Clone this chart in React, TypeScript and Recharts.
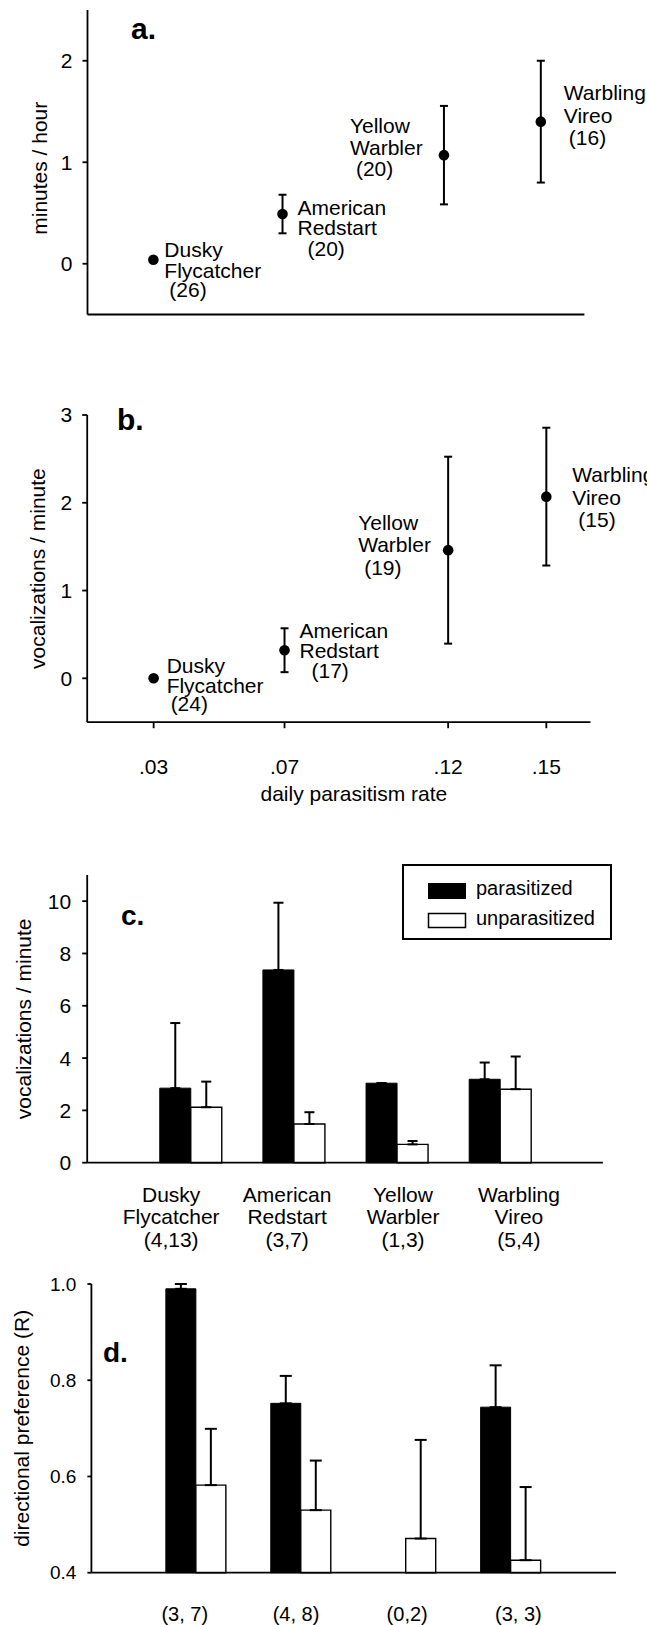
import React from 'react';
import {
  ScatterChart,
  Scatter,
  BarChart,
  Bar,
  XAxis,
  YAxis,
  ErrorBar,
  Legend,
  Label,
} from 'recharts';

const FONT = '"Liberation Sans", Arial, Helvetica, sans-serif';

// ---------- data ----------
const speciesFirst = ['Dusky', 'American', 'Yellow', 'Warbling'];
const speciesSecond = ['Flycatcher', 'Redstart', 'Warbler', 'Vireo'];
const parasitismRate = [0.03, 0.07, 0.12, 0.15];
const rateTickLabels = ['.03', '.07', '.12', '.15'];

// panel a: minutes / hour
const minutesMean = [0.04, 0.49, 1.07, 1.4];
const minutesErr = [0, 0.19, 0.485, 0.6];
const minutesN = [26, 20, 20, 16];

// panel b: vocalizations / minute
const vocMean = [0.0, 0.32, 1.46, 2.07];
const vocErr = [0, 0.25, 1.065, 0.785];
const vocN = [24, 17, 19, 15];

// panel c: vocalizations / minute, parasitized vs unparasitized
const vocParasitized = [2.85, 7.37, 3.04, 3.19];
const vocParasitizedErr = [2.49, 2.57, 0, 0.64];
const vocUnparasitized = [2.12, 1.48, 0.7, 2.81];
const vocUnparasitizedErr = [0.98, 0.45, 0.13, 1.25];
const vocSampleSizes = ['(4,13)', '(3,7)', '(1,3)', '(5,4)'];

// panel d: directional preference (R)
const dirParasitized = [0.99, 0.752, null, 0.744];
const dirParasitizedErr = [0.01, 0.057, null, 0.087];
const dirUnparasitized = [0.582, 0.53, 0.471, 0.426];
const dirUnparasitizedErr = [0.117, 0.103, 0.205, 0.152];
const dirSampleSizes = ['(3, 7)', '(4, 8)', '(0,2)', '(3, 3)'];

// category slots on the bar panels' x axis (1..4, with an empty slot each side)
const categorySlots = [1, 2, 3, 4];
const slotTicks = [1, 2, 3, 4, 5];

// ---------- label placement styles (offsets from each point) ----------
const labelStyleA = [
  { dx: [11, 11, 16], dy: [-3, 18, 37] },
  { dx: [15, 15, 25], dy: [1, 21, 42] },
  { dx: [-94, -94, -88], dy: [-22, 0, 21] },
  { dx: [23, 23, 28], dy: [-22, 1, 23] },
];
const labelStyleB = [
  { dx: [13, 13, 17], dy: [-5, 15, 33] },
  { dx: [15, 15, 27], dy: [-12, 8, 28] },
  { dx: [-90, -90, -84], dy: [-20, 2, 25] },
  { dx: [26, 26, 32], dy: [-15, 8, 30] },
];

const dataA = parasitismRate.map((rate, i) => ({
  idx: i,
  rate,
  mean: minutesMean[i],
  err: minutesErr[i],
  lines: [speciesFirst[i], speciesSecond[i], `(${minutesN[i]})`],
}));
const dataB = parasitismRate.map((rate, i) => ({
  idx: i,
  rate,
  mean: vocMean[i],
  err: vocErr[i],
  lines: [speciesFirst[i], speciesSecond[i], `(${vocN[i]})`],
}));
const dataC = speciesFirst.map((f, i) => ({
  slot: categorySlots[i],
  name: `${f} ${speciesSecond[i]}`,
  par: vocParasitized[i],
  parErr: vocParasitizedErr[i],
  unpar: vocUnparasitized[i],
  unparErr: vocUnparasitizedErr[i],
  sample: vocSampleSizes[i],
  first: f,
  second: speciesSecond[i],
}));
const dataD = speciesFirst.map((f, i) => ({
  slot: categorySlots[i],
  name: `${f} ${speciesSecond[i]}`,
  par: dirParasitized[i],
  parErr: dirParasitizedErr[i],
  unpar: dirUnparasitized[i],
  unparErr: dirUnparasitizedErr[i],
  sample: dirSampleSizes[i],
}));

const axisStroke = { stroke: '#000', strokeWidth: 1.8 };
const tickFont = (size: number) => ({ fill: '#000', fontSize: size, fontFamily: FONT });

const makePointShape = (styles: any[]) => (props: any) => {
  const { cx, cy, payload } = props;
  const st = styles[payload.idx];
  return (
    <g>
      <circle cx={cx} cy={cy} r={5.3} fill="#000" />
      {payload.lines.map((t: string, k: number) => (
        <text
          key={k}
          x={cx + st.dx[k]}
          y={cy + st.dy[k]}
          fontSize={21}
          fontFamily={FONT}
          fill="#000"
        >
          {t}
        </text>
      ))}
    </g>
  );
};

const errUp = (key: string) => (d: any) => (d[key] == null ? null : [0, d[key]]);

const NamesTickC = (props: any) => {
  const { x, y, index } = props;
  const d = dataC[index];
  if (!d) return null;
  const lines = [d.first, d.second, d.sample];
  const offs = [29, 51.5, 74];
  return (
    <g>
      {lines.map((t, k) => (
        <text key={k} x={x} y={y + offs[k]} textAnchor="middle" fontSize={21} fontFamily={FONT} fill="#000">
          {t}
        </text>
      ))}
    </g>
  );
};

const NamesTickD = (props: any) => {
  const { x, y, index } = props;
  const d = dataD[index];
  if (!d) return null;
  return (
    <text x={x} y={y + 38} textAnchor="middle" fontSize={20} fontFamily={FONT} fill="#000">
      {d.sample}
    </text>
  );
};

const LegendBox = () => (
  <svg width={210} height={76} style={{ display: 'block' }}>
    <rect x={1} y={1} width={208} height={74} fill="#fff" stroke="#000" strokeWidth={2} />
    <rect x={26} y={19} width={38} height={16} fill="#000" />
    <text x={74} y={31} fontSize={20} fontFamily={FONT} fill="#000">parasitized</text>
    <rect x={26.5} y={49.5} width={37} height={14} fill="#fff" stroke="#000" strokeWidth={1.5} />
    <text x={74} y={61} fontSize={20} fontFamily={FONT} fill="#000">unparasitized</text>
  </svg>
);

const rateFormatter = (v: number) => {
  const i = parasitismRate.indexOf(v);
  return i >= 0 ? rateTickLabels[i] : '';
};

export default function App() {
  return (
    <div
      style={{
        position: 'absolute',
        left: 0,
        top: 0,
        width: 647,
        height: 1625,
        background: '#fff',
        fontFamily: FONT,
        overflow: 'hidden',
      }}
    >
      {/* panel a */}
      <div style={{ position: 'absolute', left: 0, top: 0 }}>
        <ScatterChart width={647} height={340} margin={{ top: 10, right: 62.6, bottom: 0.5, left: 0 }}>
          <XAxis
            type="number"
            dataKey="rate"
            domain={[0.0096, 0.1635]}
            ticks={parasitismRate}
            tick={false}
            tickSize={8}
            height={25}
            axisLine={axisStroke}
            tickLine={axisStroke}
          />
          <YAxis
            type="number"
            dataKey="mean"
            domain={[-0.5, 2.5]}
            ticks={[0, 1, 2]}
            width={87.5}
            tickSize={5}
            tickMargin={10}
            tick={tickFont(21)}
            axisLine={axisStroke}
            tickLine={axisStroke}
          >
            <Label value="minutes / hour" angle={-90} position="center" dx={-4} dy={6} fontSize={21} fontFamily={FONT} fill="#000" />
          </YAxis>
          <Scatter data={dataA} shape={makePointShape(labelStyleA)} isAnimationActive={false}>
            <ErrorBar dataKey="err" direction="y" width={4} strokeWidth={2} stroke="#000" />
          </Scatter>
        </ScatterChart>
      </div>

      {/* panel b */}
      <div style={{ position: 'absolute', left: 0, top: 390 }}>
        <ScatterChart width={647} height={440} margin={{ top: 25, right: 56.5, bottom: 0, left: 0 }}>
          <XAxis
            type="number"
            dataKey="rate"
            domain={[0.0097, 0.1635]}
            ticks={parasitismRate}
            tickFormatter={rateFormatter}
            tick={tickFont(21)}
            tickSize={6}
            tickMargin={31}
            height={107.8}
            axisLine={axisStroke}
            tickLine={axisStroke}
          >
            <Label value="daily parasitism rate" position="insideBottom" offset={29} dx={15} fontSize={21} fontFamily={FONT} fill="#000" />
          </XAxis>
          <YAxis
            type="number"
            dataKey="mean"
            domain={[-0.5, 3]}
            ticks={[0, 1, 2, 3]}
            width={87.2}
            tickSize={5}
            tickMargin={10}
            tick={tickFont(21)}
            axisLine={axisStroke}
            tickLine={axisStroke}
          >
            <Label value="vocalizations / minute" angle={-90} position="center" dx={-6} fontSize={21} fontFamily={FONT} fill="#000" />
          </YAxis>
          <Scatter data={dataB} shape={makePointShape(labelStyleB)} isAnimationActive={false}>
            <ErrorBar dataKey="err" direction="y" width={4} strokeWidth={2} stroke="#000" />
          </Scatter>
        </ScatterChart>
      </div>

      {/* panel c */}
      <div style={{ position: 'absolute', left: 0, top: 840 }}>
        <BarChart
          width={647}
          height={415}
          data={dataC}
          margin={{ top: 35, right: 44.1, bottom: 0, left: 0 }}
          barGap={0}
          barSize={31}
        >
          <XAxis
            dataKey="slot"
            type="number"
            domain={[0, 5]}
            ticks={slotTicks}
            height={10}
            tick={false}
            tickSize={5}
            axisLine={axisStroke}
            tickLine={axisStroke}
          />
          <XAxis
            xAxisId="names"
            dataKey="name"
            type="category"
            padding={{ left: 26, right: 26 }}
            height={82.3}
            axisLine={false}
            tickLine={false}
            tickSize={0}
            tickMargin={0}
            interval={0}
            tick={<NamesTickC />}
          />
          <YAxis
            type="number"
            domain={[0, 11]}
            ticks={[0, 2, 4, 6, 8, 10]}
            width={87.2}
            tickSize={5}
            tickMargin={11}
            tick={tickFont(21)}
            axisLine={axisStroke}
            tickLine={axisStroke}
          >
            <Label value="vocalizations / minute" angle={-90} position="center" dx={-20} fontSize={21} fontFamily={FONT} fill="#000" />
          </YAxis>
          <Legend
            layout="vertical"
            align="center"
            verticalAlign="middle"
            content={<LegendBox />}
            wrapperStyle={{ position: 'absolute', left: 402, top: 24, width: 210, height: 76 }}
          />
          <Bar dataKey="par" name="parasitized" fill="#000" stroke="#000" strokeWidth={1} isAnimationActive={false}>
            <ErrorBar dataKey={errUp('parErr')} direction="y" width={5} strokeWidth={2} stroke="#000" />
          </Bar>
          <Bar dataKey="unpar" name="unparasitized" fill="#fff" stroke="#000" strokeWidth={1.4} isAnimationActive={false}>
            <ErrorBar dataKey={errUp('unparErr')} direction="y" width={5} strokeWidth={2} stroke="#000" />
          </Bar>
        </BarChart>
      </div>

      {/* panel d */}
      <div style={{ position: 'absolute', left: 0, top: 1265 }}>
        <BarChart
          width={647}
          height={360}
          data={dataD}
          margin={{ top: 19, right: 31, bottom: 0, left: 0 }}
          barGap={0}
          barSize={30}
        >
          <XAxis
            dataKey="slot"
            type="number"
            domain={[0, 5]}
            ticks={slotTicks}
            height={10}
            tick={false}
            tickSize={5}
            axisLine={axisStroke}
            tickLine={axisStroke}
          />
          <XAxis
            xAxisId="names"
            dataKey="name"
            type="category"
            padding={{ left: 37.75, right: 42 }}
            height={42.3}
            axisLine={false}
            tickLine={false}
            tickSize={0}
            tickMargin={0}
            interval={0}
            tick={<NamesTickD />}
          />
          <YAxis
            type="number"
            domain={[0.4, 1.0]}
            ticks={[0.4, 0.6, 0.8, 1.0]}
            tickFormatter={(v: number) => v.toFixed(1)}
            width={91.4}
            tickSize={4}
            tickMargin={11}
            tick={tickFont(19)}
            axisLine={axisStroke}
            tickLine={axisStroke}
          >
            <Label value="directional preference (R)" angle={-90} position="center" dx={-24} fontSize={21} fontFamily={FONT} fill="#000" />
          </YAxis>
          <Bar dataKey="par" name="parasitized" fill="#000" stroke="#000" strokeWidth={1} isAnimationActive={false}>
            <ErrorBar dataKey={errUp('parErr')} direction="y" width={6} strokeWidth={2} stroke="#000" />
          </Bar>
          <Bar dataKey="unpar" name="unparasitized" fill="#fff" stroke="#000" strokeWidth={1.4} isAnimationActive={false}>
            <ErrorBar dataKey={errUp('unparErr')} direction="y" width={6} strokeWidth={2} stroke="#000" />
          </Bar>
        </BarChart>
      </div>

      {/* panel letters */}
      <svg
        width={647}
        height={1625}
        style={{ position: 'absolute', left: 0, top: 0, pointerEvents: 'none' }}
      >
        <text x={131} y={39} fontSize={30} fontWeight="bold" fontFamily={FONT} fill="#000">a.</text>
        <text x={117} y={430} fontSize={30} fontWeight="bold" fontFamily={FONT} fill="#000">b.</text>
        <text x={121} y={925} fontSize={28} fontWeight="bold" fontFamily={FONT} fill="#000">c.</text>
        <text x={103} y={1362} fontSize={28} fontWeight="bold" fontFamily={FONT} fill="#000">d.</text>
      </svg>
    </div>
  );
}
